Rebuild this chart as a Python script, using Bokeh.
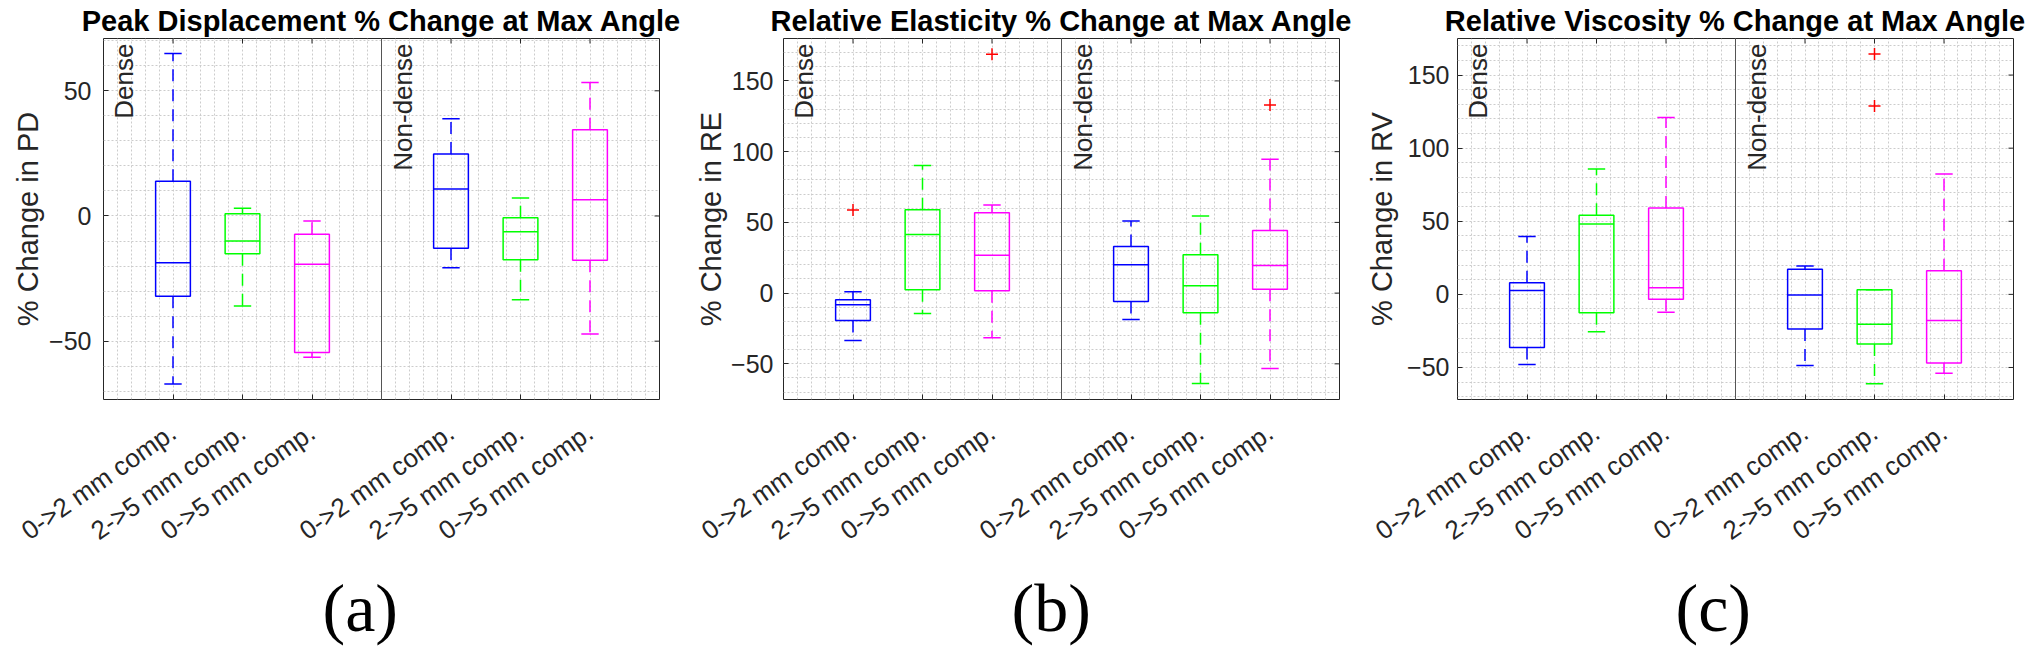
import numpy as np
from bokeh.plotting import figure
from bokeh.models import (Range1d, FixedTicker, SingleIntervalTicker, Span, Label, Title)
from bokeh.layouts import row
from bokeh.embed import file_html
from bokeh.resources import INLINE

# ---------------- data ----------------
positions = [1, 2, 3, 5, 6, 7]
tick_labels = ["0->2 mm comp.", "2->5 mm comp.", "0->5 mm comp.",
               "0->2 mm comp.", "2->5 mm comp.", "0->5 mm comp."]
box_colors = ["#0000ff", "#00ff00", "#ff00ff", "#0000ff", "#00ff00", "#ff00ff"]
group_labels = ["Dense", "Non-dense"]

titles = ["Peak Displacement % Change at Max Angle",
          "Relative Elasticity % Change at Max Angle",
          "Relative Viscosity % Change at Max Angle"]
ylabels = ["% Change in PD", "% Change in RE", "% Change in RV"]
panel_tags = ["(a)", "(b)", "(c)"]

# Peak displacement
pd_low = [-67.1, -36.0, -56.4, -20.7, -33.5, -47.1]
pd_q1 = [-32.1, -15.1, -54.5, -12.9, -17.5, -17.7]
pd_med = [-18.7, -10.0, -19.3, 10.8, -6.3, 6.5]
pd_q3 = [13.9, 0.9, -7.3, 24.8, -0.7, 34.5]
pd_high = [64.9, 3.1, -2.0, 38.8, 7.2, 53.3]
pd_out_x = []
pd_out_y = []

# Relative elasticity
re_low = [-33.5, -14.4, -31.6, -18.6, -63.9, -53.3]
re_q1 = [-19.3, 2.4, 1.7, -5.9, -13.9, 2.8]
re_med = [-8.3, 41.5, 26.7, 20.0, 5.2, 19.6]
re_q3 = [-4.7, 59.0, 56.8, 33.0, 27.1, 44.3]
re_high = [0.9, 90.3, 62.3, 50.9, 54.5, 94.6]
re_out_x = [1, 3, 7]
re_out_y = [58.7, 168.9, 133.0]

# Relative viscosity
rv_low = [-47.9, -25.6, -12.3, -48.6, -61.2, -53.9]
rv_q1 = [-36.3, -12.6, -3.4, -23.7, -34.0, -47.0]
rv_med = [2.7, 48.2, 4.6, -0.5, -20.5, -17.8]
rv_q3 = [8.0, 54.1, 59.1, 17.1, 3.2, 16.2]
rv_high = [39.5, 85.8, 121.0, 19.4, 3.2, 82.4]
rv_out_x = [6, 6]
rv_out_y = [164.4, 128.8]

y_limits = [(-73.3, 70.9), (-75.2, 180.0), (-71.9, 175.0)]
y_major = 50
x_limits = (0, 8)
divider_x = 4

# ---------------- layout ----------------
FIG_W = [686, 670, 684]
BORDER_L = [103, 97, 101]
FRAME_W = 556
FRAME_H = 361
BORDER_T = 38
TOTAL_H = 648
GROUP_LABEL_X = [0.288, 4.31]
TAG_OFFSET = [219, 228, 218]
TICK_STANDOFF = [12, 10, 8]
LABEL_STANDOFF = [2, 1, 6]
TICK_LEN = 5  # px

BOX_HALF = 0.25
CAP_HALF = 0.125
AX_COLOR = "#262626"
FONT = "Liberation Sans"


def make_panel(i, low, q1, med, q3, high, out_x, out_y):
    x = np.array(positions, dtype=float)
    ymin, ymax = y_limits[i]
    p = figure(frame_width=FRAME_W, frame_height=FRAME_H,
               min_border_left=BORDER_L[i],
               min_border_right=FIG_W[i] - BORDER_L[i] - FRAME_W,
               min_border_top=BORDER_T,
               min_border_bottom=TOTAL_H - BORDER_T - FRAME_H,
               x_range=Range1d(*x_limits), y_range=Range1d(ymin, ymax),
               toolbar_location=None, output_backend="svg",
               background_fill_color="white", border_fill_color="white")
    p.outline_line_color = AX_COLOR
    p.outline_line_width = 1

    # title
    p.title.text = titles[i]
    p.title.align = "center"
    p.title.text_font = FONT
    p.title.text_font_size = "29px"
    p.title.text_font_style = "bold"
    p.title.text_color = "black"
    p.title.standoff = 4

    # grids (dotted)
    p.xgrid.ticker = SingleIntervalTicker(interval=0.2, num_minor_ticks=0)
    p.ygrid.ticker = SingleIntervalTicker(interval=10, num_minor_ticks=0)
    for g in (p.xgrid, p.ygrid):
        g.grid_line_color = "#cccccc"
        g.grid_line_dash = "2 2"
        g.grid_line_width = 1

    # x axis
    xa = p.xaxis[0]
    xa.ticker = FixedTicker(ticks=positions)
    xa.major_label_overrides = {pos: lab for pos, lab in zip(positions, tick_labels)}
    xa.major_label_orientation = 0.61
    xa.major_label_text_font = FONT
    xa.major_label_text_font_size = "26px"
    xa.major_label_text_color = AX_COLOR
    xa.major_label_standoff = 30
    xa.major_tick_in = TICK_LEN
    xa.major_tick_out = 0
    xa.major_tick_line_color = AX_COLOR
    xa.minor_tick_line_color = None
    xa.axis_line_color = None

    # y axis
    ya = p.yaxis[0]
    ya.ticker = SingleIntervalTicker(interval=y_major, num_minor_ticks=0)
    ya.axis_label = ylabels[i]
    ya.axis_label_text_font = FONT
    ya.axis_label_text_font_size = "29px"
    ya.axis_label_text_font_style = "normal"
    ya.axis_label_text_color = AX_COLOR
    ya.axis_label_standoff = LABEL_STANDOFF[i]
    ya.major_label_text_font = FONT
    ya.major_label_text_font_size = "25px"
    ya.major_label_text_color = AX_COLOR
    ya.major_label_standoff = TICK_STANDOFF[i]
    ya.major_tick_in = TICK_LEN
    ya.major_tick_out = 0
    ya.major_tick_line_color = AX_COLOR
    ya.minor_tick_line_color = None
    ya.axis_line_color = None

    # mirrored inward ticks on the top and right edges of the box
    dy = TICK_LEN * (ymax - ymin) / FRAME_H
    dx = TICK_LEN * (x_limits[1] - x_limits[0]) / FRAME_W
    p.segment(x0=x, x1=x, y0=ymax, y1=ymax - dy, line_color=AX_COLOR, line_width=1)
    yt = np.arange(np.ceil(ymin / y_major) * y_major, ymax, y_major)
    p.segment(x0=x_limits[1], x1=x_limits[1] - dx, y0=yt, y1=yt,
              line_color=AX_COLOR, line_width=1)

    # divider between groups
    p.add_layout(Span(location=divider_x, dimension="height",
                      line_color="#555555", line_width=1))

    # boxes
    p.quad(left=x - BOX_HALF, right=x + BOX_HALF, bottom=q1, top=q3,
           fill_color=None, line_color=box_colors, line_width=1.5)
    p.segment(x0=x - BOX_HALF, x1=x + BOX_HALF, y0=med, y1=med,
              line_color=box_colors, line_width=1.5)
    # whiskers
    p.segment(x0=x, x1=x, y0=q3, y1=high, line_color=box_colors,
              line_width=1.5, line_dash="12 8")
    p.segment(x0=x, x1=x, y0=q1, y1=low, line_color=box_colors,
              line_width=1.5, line_dash="12 8")
    # caps
    p.segment(x0=x - CAP_HALF, x1=x + CAP_HALF, y0=high, y1=high,
              line_color=box_colors, line_width=1.5)
    p.segment(x0=x - CAP_HALF, x1=x + CAP_HALF, y0=low, y1=low,
              line_color=box_colors, line_width=1.5)
    # outliers
    if out_x:
        p.scatter(x=out_x, y=out_y, marker="cross", size=12,
                  line_color="#ff0000", line_width=1.5)

    # group labels
    for gx, gl in zip(GROUP_LABEL_X, group_labels):
        p.add_layout(Label(x=gx, x_units="data", y=FRAME_H - 5, y_units="screen",
                           text=gl, angle=np.pi / 2, text_align="right",
                           text_baseline="middle", text_font=FONT,
                           text_font_size="26px", text_color=AX_COLOR))

    # panel tag below the axis
    p.add_layout(Title(text=panel_tags[i], align="left", offset=TAG_OFFSET[i],
                       text_font="Liberation Serif", text_font_size="68px",
                       text_font_style="normal", text_color="black",
                       standoff=14), "below")
    return p


pa = make_panel(0, pd_low, pd_q1, pd_med, pd_q3, pd_high, pd_out_x, pd_out_y)
pb = make_panel(1, re_low, re_q1, re_med, re_q3, re_high, re_out_x, re_out_y)
pc = make_panel(2, rv_low, rv_q1, rv_med, rv_q3, rv_high, rv_out_x, rv_out_y)

layout = row(pa, pb, pc, spacing=0)
open("out.html", "w").write(file_html(layout, INLINE))
